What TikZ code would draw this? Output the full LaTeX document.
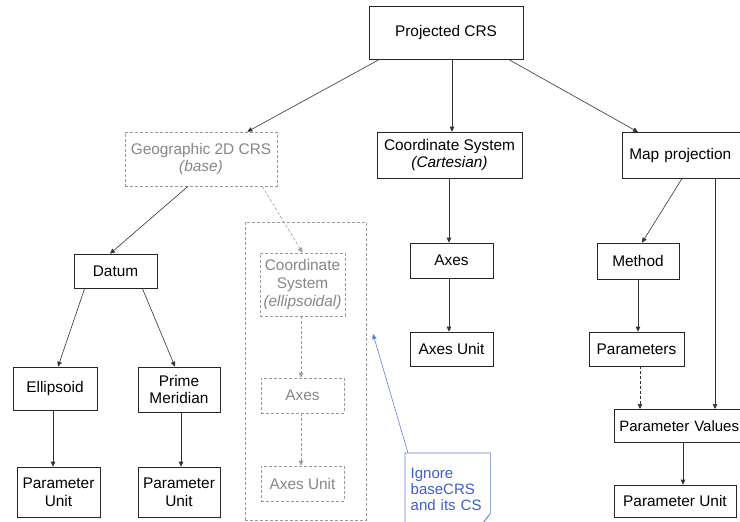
\documentclass[tikz,border=0pt]{standalone}
\usepackage{fontspec}
\setmainfont{Liberation Sans}
\usetikzlibrary{arrows.meta}

\definecolor{basegray}{RGB}{155,155,155}
\definecolor{basetext}{RGB}{135,135,135}
\definecolor{noteblue}{RGB}{60,95,205}
\definecolor{notearrow}{RGB}{95,130,215}

\tikzset{
  box/.style={draw=black!85, line width=0.6pt, inner sep=0pt, align=center,
    font=\fontsize{15.4}{17.8}\selectfont},
  basebox/.style={box, draw=basegray, dash pattern=on 3pt off 2pt, text=basetext},
  arr/.style={draw=black!80, line width=0.6pt, -{Triangle[length=5pt,width=4.5pt]}},
  basearr/.style={arr, draw=basegray, dash pattern=on 3pt off 2pt},
  notearr/.style={arr, draw=notearrow},
}

\begin{document}
\begin{tikzpicture}[x=1pt, y=-1pt]
\useasboundingbox (0,0) rectangle (740,522);
\fill[white] (0,0) rectangle (740,522);
\clip (0,0) rectangle (740,522);

% top
\node[box, minimum width=154pt, minimum height=53pt] (proj) at (446,32.5) {Projected CRS};

% base CRS branch
\node[basebox, minimum width=152pt, minimum height=54pt] (geo) at (201,159) {Geographic 2D CRS\\\textit{(base)}};
\node[box, minimum width=83pt, minimum height=34pt] (datum) at (115.5,271) {Datum};
\node[box, minimum width=84pt, minimum height=43pt] (ellip) at (55,388.5) {Ellipsoid};
\node[box, minimum width=82pt, minimum height=45pt] (prime) at (179,389.5) {Prime\\Meridian};
\node[box, minimum width=83pt, minimum height=50pt] (pu1) at (58.5,492) {Parameter\\Unit};
\node[box, minimum width=82pt, minimum height=50pt] (pu2) at (179,492) {Parameter\\Unit};

% ignored part
\node[draw=basegray, line width=0.6pt, dash pattern=on 3pt off 2pt, minimum width=121pt, minimum height=298pt, inner sep=0pt] (basegroup) at (305.5,371) {};
\node[basebox, minimum width=85pt, minimum height=63pt] (csell) at (302.5,284.5) {Coordinate\\System\\\textit{(ellipsoidal)}};
\node[basebox, minimum width=83pt, minimum height=35pt] (gaxes) at (302.5,395.5) {Axes};
\node[basebox, minimum width=83pt, minimum height=35pt] (gaxu) at (302.5,483.5) {Axes Unit};

% projected CS
\node[box, minimum width=145pt, minimum height=46pt] (cs) at (449.5,155) {Coordinate System\\\textit{(Cartesian)}};
\node[box, minimum width=83pt, minimum height=35pt] (axes) at (451.5,260.5) {Axes};
\node[box, minimum width=83pt, minimum height=34pt] (axu) at (451.5,349) {Axes Unit};

% map projection
\node[box, anchor=north west, align=left, text width=118pt, inner xsep=7pt, minimum height=46pt] (map) at (622,132) {Map projection};
\node[box, minimum width=82pt, minimum height=36pt] (method) at (638,261) {Method};
\node[box, minimum width=95pt, minimum height=34pt] (params) at (636.5,349) {Parameters};
\node[box, anchor=north west, align=left, text width=128pt, inner xsep=5pt, minimum height=33pt,
  font=\fontsize{15}{17.5}\selectfont] (pval) at (614,409) {Parameter Values};
\node[box, minimum width=122pt, minimum height=32pt] (pu3) at (675,501) {Parameter Unit};

% note
\node[anchor=north west, align=left, text width=74pt, inner xsep=5.5pt, minimum height=72pt,
  text=noteblue, font=\fontsize{15}{16}\selectfont] (note) at (405,453) {Ignore\\baseCRS\\and its CS};
\draw[draw=notearrow, line width=0.6pt] (note.north west) -- (note.north east) -- ([yshift=12pt]note.south east)
  -- ([xshift=-9pt]note.south east) -- (note.south west) -- cycle;
\draw[draw=notearrow, line width=0.5pt] ([yshift=12pt]note.south east) -- ([xshift=-5pt,yshift=6pt]note.south east) -- ([xshift=-9pt]note.south east);
\coordinate (notetip) at (373,334);

% connectors
\draw[arr] ([xshift=11pt]proj.south west) -- ([xshift=-30pt]geo.north east);
\draw[arr] ([xshift=6pt]proj.south) -- ([xshift=6pt]proj.south |- cs.north);
\draw[arr] ([xshift=-15pt]proj.south east) -- ([xshift=16pt]map.north west);

\draw[arr] ([xshift=-13pt]geo.south) -- ([xshift=-5.5pt]datum.north);
\draw[basearr] ([xshift=-15pt]geo.south east) -- (csell.north);
\draw[arr] ([xshift=11pt]datum.south west) -- ([xshift=3pt]ellip.north);
\draw[arr] ([xshift=-15pt]datum.south east) -- ([xshift=-4pt]prime.north);
\draw[arr] ([xshift=-2pt]ellip.south) -- ([xshift=-2pt]ellip.south |- pu1.north);
\draw[arr] ([xshift=2pt]prime.south) -- ([xshift=2pt]prime.south |- pu2.north);

\draw[basearr] ([xshift=-1.5pt]csell.south) -- ([xshift=-1.5pt]csell.south |- gaxes.north);
\draw[basearr] ([xshift=-1.5pt]gaxes.south) -- ([xshift=-1.5pt]gaxes.south |- gaxu.north);

\draw[arr] ([xshift=-0.5pt]cs.south) -- ([xshift=-0.5pt]cs.south |- axes.north);
\draw[arr] ([xshift=-2.5pt]axes.south) -- ([xshift=-2.5pt]axes.south |- axu.north);

\draw[arr] ([xshift=60pt]map.south west) -- ([xshift=4pt]method.north);
\draw[arr] ([xshift=93pt]map.south west) -- ([xshift=93pt]map.south west |- pval.north);
\draw[arr] (method.south) -- (method.south |- params.north);
\draw[arr, dash pattern=on 3pt off 2pt] ([xshift=3.5pt]params.south) -- ([xshift=3.5pt]params.south |- pval.north);
\draw[arr] ([xshift=69pt]pval.south west) -- ([xshift=69pt]pval.south west |- pu3.north);

\draw[notearr] ([xshift=3pt]note.north west) -- (notetip);

\end{tikzpicture}
\end{document}
